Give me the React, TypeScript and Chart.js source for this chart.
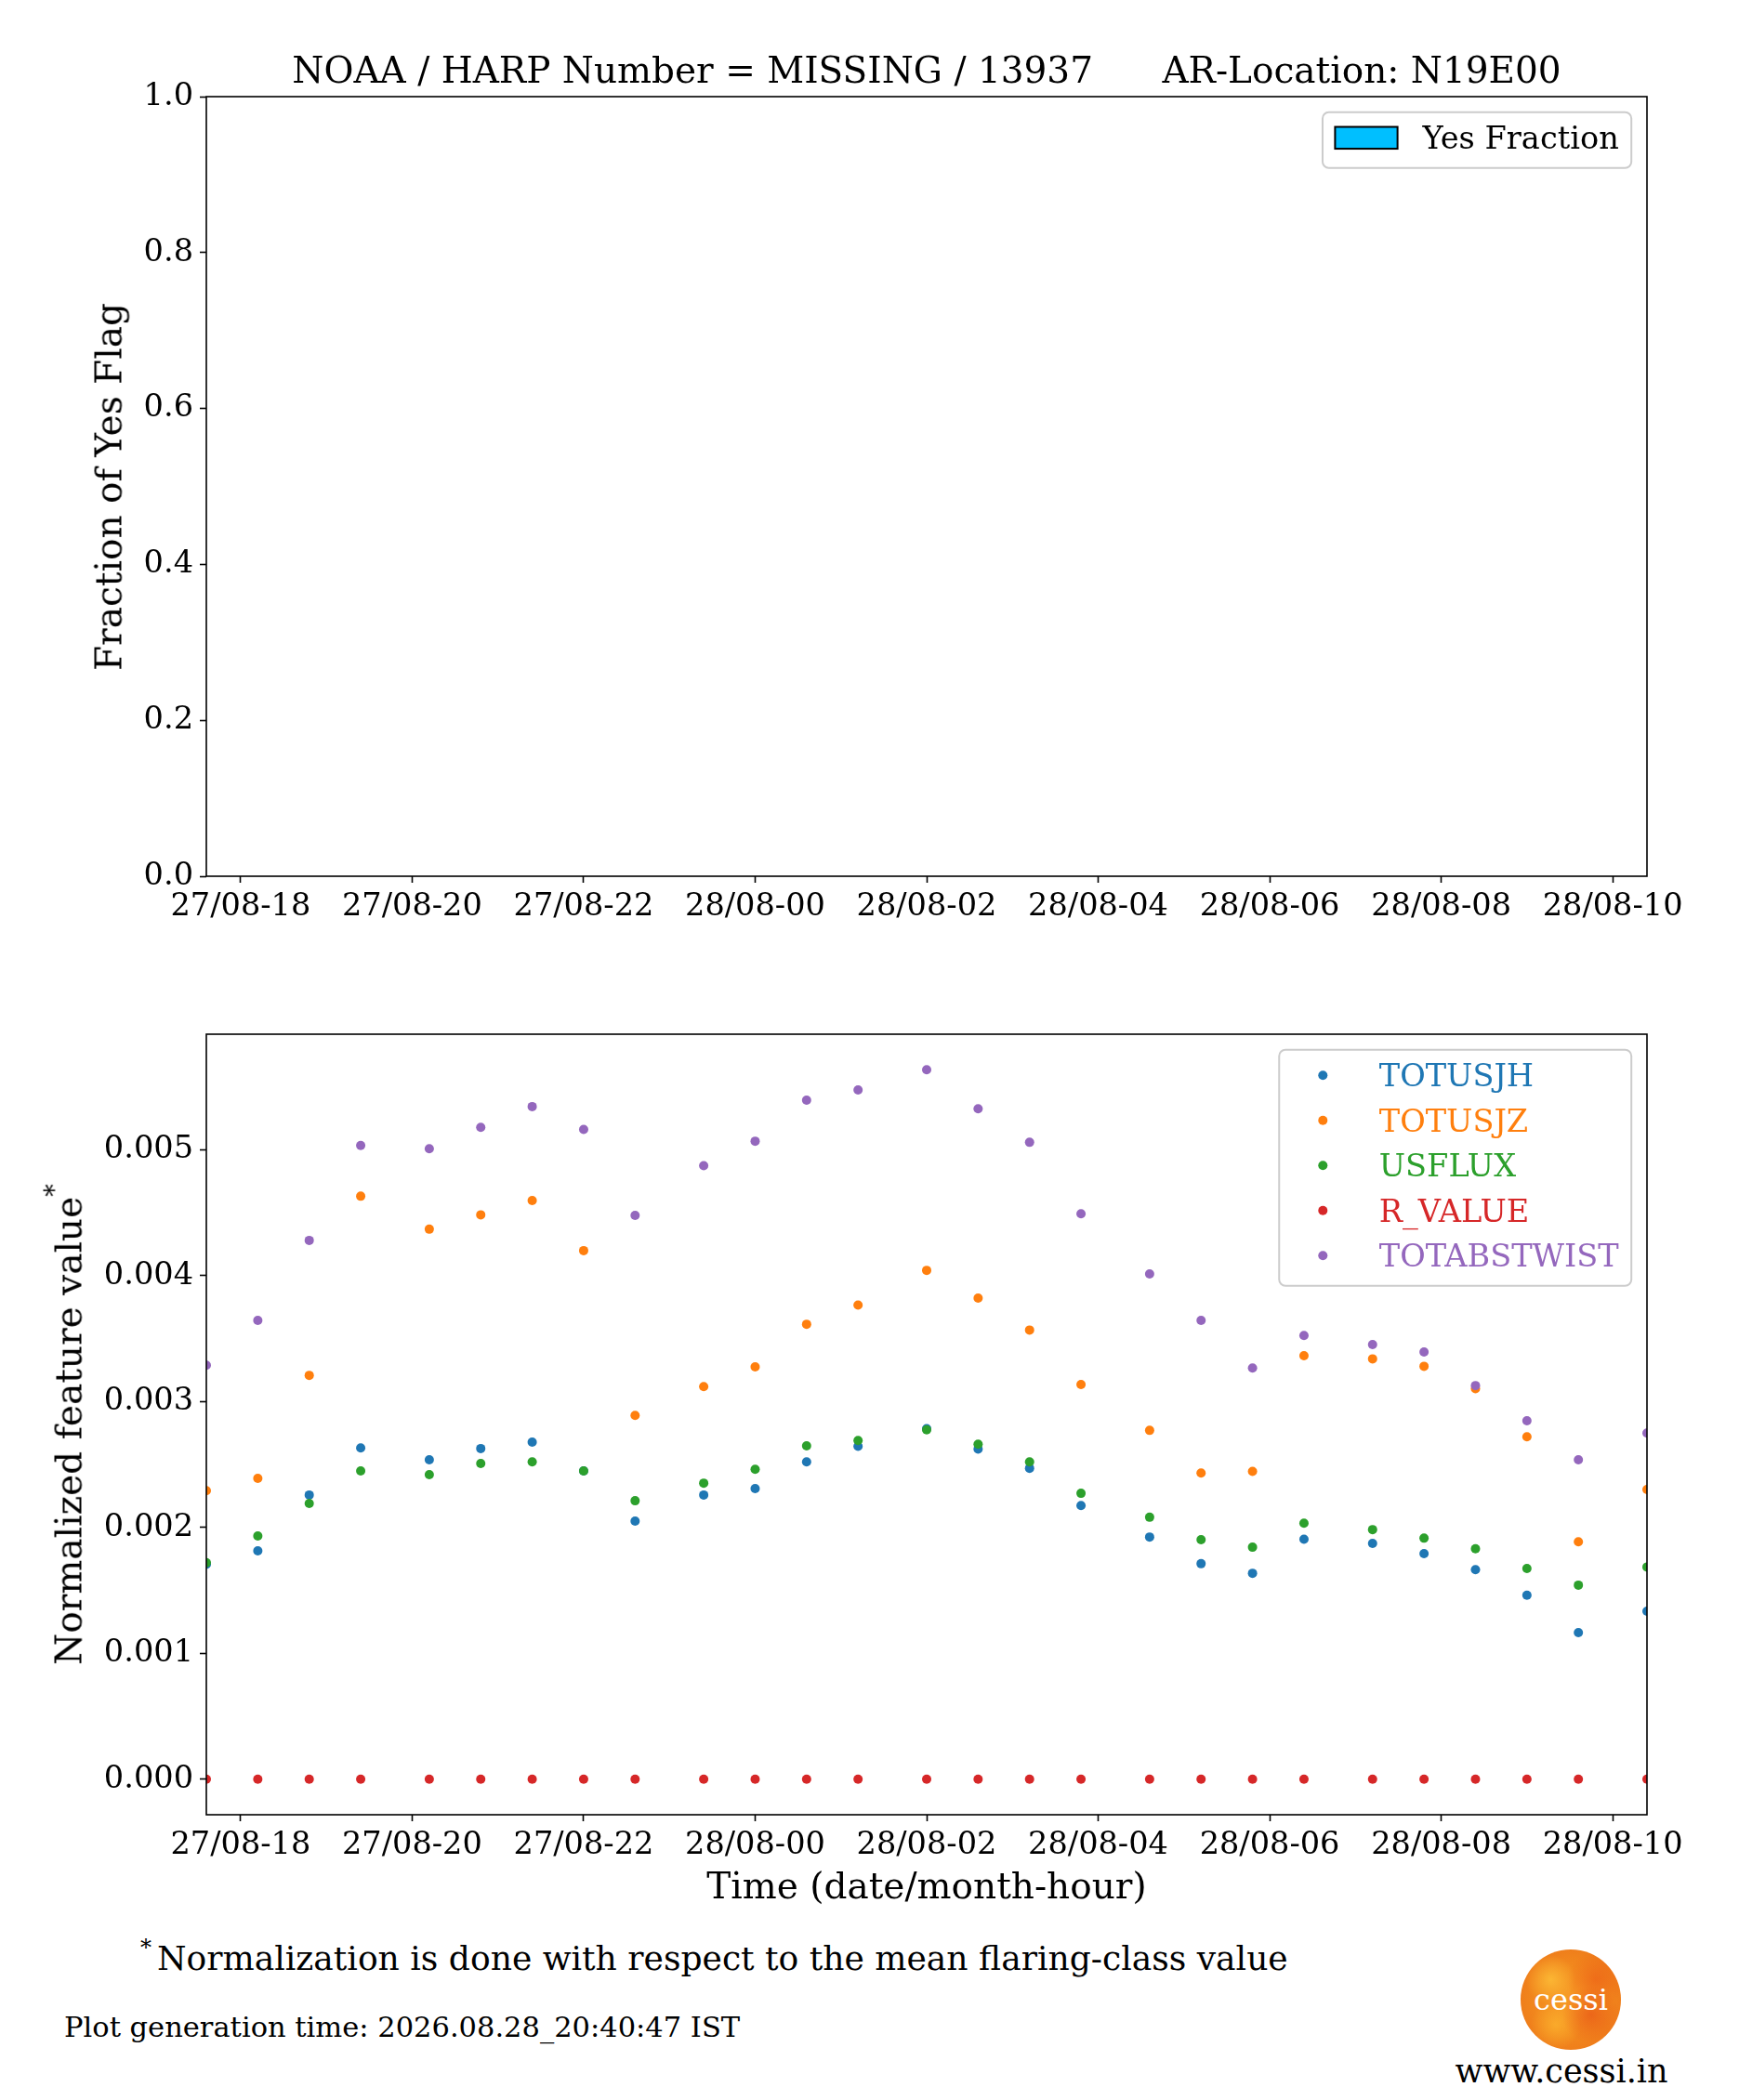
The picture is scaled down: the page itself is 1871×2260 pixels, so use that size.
import React, { useEffect, useRef } from "react";
import { Chart, registerables } from "chart.js";

Chart.register(...registerables);

const FONT = "'DejaVu Serif', serif";

// ---------- data ----------
const times = [
  "27/08 17:36", "27/08 18:12", "27/08 18:48", "27/08 19:24", "27/08 20:12", "27/08 20:48",
  "27/08 21:24", "27/08 22:00", "27/08 22:36", "27/08 23:24", "28/08 00:00", "28/08 00:36",
  "28/08 01:12", "28/08 02:00", "28/08 02:36", "28/08 03:12", "28/08 03:48", "28/08 04:36",
  "28/08 05:12", "28/08 05:48", "28/08 06:24", "28/08 07:12", "28/08 07:48", "28/08 08:24",
  "28/08 09:00", "28/08 09:36", "28/08 10:24",
];

const TOTUSJH = [
  0.001708, 0.001814, 0.002258, 0.002631, 0.002538, 0.002627, 0.002678, 0.002449, 0.002051,
  0.002258, 0.002309, 0.002521, 0.002644, 0.002784, 0.002623, 0.002470, 0.002174, 0.001924,
  0.001712, 0.001636, 0.001907, 0.001873, 0.001792, 0.001665, 0.001462, 0.001165, 0.001335,
];
const TOTUSJZ = [
  0.002292, 0.002390, 0.003208, 0.004631, 0.004369, 0.004483, 0.004597, 0.004199, 0.002890,
  0.003119, 0.003275, 0.003614, 0.003767, 0.004042, 0.003822, 0.003568, 0.003136, 0.002771,
  0.002432, 0.002445, 0.003364, 0.003339, 0.003280, 0.003102, 0.002720, 0.001886, 0.002301,
];
const USFLUX = [
  0.001720, 0.001932, 0.002191, 0.002449, 0.002419, 0.002508, 0.002521, 0.002449, 0.002212,
  0.002352, 0.002462, 0.002648, 0.002691, 0.002775, 0.002661, 0.002521, 0.002271, 0.002081,
  0.001903, 0.001843, 0.002034, 0.001983, 0.001915, 0.001831, 0.001674, 0.001542, 0.001686,
];
const R_VALUE = [
  0, 0, 0, 0, 0, 0, 0, 0, 0, 0, 0, 0, 0, 0, 0, 0, 0, 0, 0, 0, 0, 0, 0, 0, 0, 0, 0,
];
const TOTABSTWIST = [
  0.003288, 0.003644, 0.004280, 0.005034, 0.005008, 0.005178, 0.005343, 0.005161, 0.004479,
  0.004873, 0.005068, 0.005394, 0.005475, 0.005636, 0.005326, 0.005059, 0.004492, 0.004013,
  0.003644, 0.003267, 0.003525, 0.003453, 0.003394, 0.003127, 0.002847, 0.002538, 0.002750,
];

const yesFraction: number[] = [];

const seriesNames = ["TOTUSJH", "TOTUSJZ", "USFLUX", "R_VALUE", "TOTABSTWIST"];
const seriesValues = [TOTUSJH, TOTUSJZ, USFLUX, R_VALUE, TOTABSTWIST];
const seriesColors = ["#1f77b4", "#ff7f0e", "#2ca02c", "#d62728", "#9467bd"];

const xTickLabels = [
  "27/08-18", "27/08-20", "27/08-22", "28/08-00", "28/08-02",
  "28/08-04", "28/08-06", "28/08-08", "28/08-10",
];
const fracTicks = [0, 0.2, 0.4, 0.6, 0.8, 1.0];
const fracTickLabels = ["0.0", "0.2", "0.4", "0.6", "0.8", "1.0"];
const featTicks = [0, 0.001, 0.002, 0.003, 0.004, 0.005];
const featTickLabels = ["0.000", "0.001", "0.002", "0.003", "0.004", "0.005"];

// ---------- helpers ----------
function hoursOf(t: string): number {
  const [dm, hm] = t.split(" ");
  const day = parseInt(dm.split("/")[0], 10);
  const [h, m] = hm.split(":").map(Number);
  return (day - 27) * 24 + h + m / 60;
}
function tickHours(l: string): number {
  const day = parseInt(l.slice(0, 2), 10);
  const h = parseInt(l.slice(6), 10);
  return (day - 27) * 24 + h;
}

const xs = times.map(hoursOf);
const xMin = Math.min(...xs);
const xMax = Math.max(...xs);
const xTickValues = xTickLabels.map(tickHours);

const allVals = seriesValues.flat();
const dMin = Math.min(...allVals);
const dMax = Math.max(...allVals);
const yMinFeat = dMin - 0.05 * (dMax - dMin);
const yMaxFeat = dMax + 0.05 * (dMax - dMin);

const W = 1871;
const TICK_FS = 33.6;
const LABEL_FS = 39;
const PLOT_LEFT = 222;
const PLOT_RIGHT = 1772;

const framePlugin = {
  id: "frame",
  afterDatasetsDraw(chart: any) {
    const { ctx, chartArea: a } = chart;
    ctx.save();
    ctx.strokeStyle = "#000";
    ctx.lineWidth = 1.6;
    ctx.strokeRect(a.left, a.top, a.right - a.left, a.bottom - a.top);
    ctx.restore();
  },
};

const boxLegendPlugin = {
  id: "boxLegend",
  afterDraw(chart: any, _args: any, opts: any) {
    const items = opts && opts.items;
    if (!items || !items.length) return;
    const { ctx, chartArea: a } = chart;
    const fs = TICK_FS;
    ctx.save();
    ctx.font = `${fs}px ${FONT}`;
    const textW = Math.max(...items.map((it: any) => ctx.measureText(it.label).width));
    const pad = 0.4 * fs;
    const handleLen = 2 * fs;
    const handlePad = 0.8 * fs;
    const w = pad + handleLen + handlePad + textW + pad;
    const rowStep = 48.5;
    const h = 60 + (items.length - 1) * rowStep;
    const right = a.right - 0.5 * fs;
    const left = right - w;
    const top = a.top + 0.5 * fs;
    const r = 0.2 * fs;
    ctx.beginPath();
    ctx.moveTo(left + r, top);
    ctx.lineTo(left + w - r, top);
    ctx.arcTo(left + w, top, left + w, top + r, r);
    ctx.lineTo(left + w, top + h - r);
    ctx.arcTo(left + w, top + h, left + w - r, top + h, r);
    ctx.lineTo(left + r, top + h);
    ctx.arcTo(left, top + h, left, top + h - r, r);
    ctx.lineTo(left, top + r);
    ctx.arcTo(left, top, left + r, top, r);
    ctx.closePath();
    ctx.fillStyle = "rgba(255,255,255,0.8)";
    ctx.fill();
    ctx.strokeStyle = "#cccccc";
    ctx.lineWidth = 2;
    ctx.stroke();
    items.forEach((it: any, i: number) => {
      const cy = top + 27.5 + i * rowStep;
      const hx = left + pad;
      if (it.kind === "patch") {
        const ph = 0.7 * fs;
        ctx.fillStyle = it.color;
        ctx.fillRect(hx, cy - ph / 2, handleLen, ph);
        ctx.strokeStyle = "#000";
        ctx.lineWidth = 2;
        ctx.strokeRect(hx, cy - ph / 2, handleLen, ph);
      } else {
        ctx.fillStyle = it.color;
        ctx.beginPath();
        ctx.arc(hx + handleLen / 2, cy, 5, 0, Math.PI * 2);
        ctx.fill();
      }
      ctx.fillStyle = it.textColor;
      ctx.textBaseline = "alphabetic";
      ctx.textAlign = "left";
      ctx.fillText(it.label, hx + handleLen + handlePad, cy + 0.36 * fs);
    });
    ctx.restore();
  },
};

function xScale(canvasH: number, plotBottom: number) {
  return {
    type: "linear",
    min: xMin,
    max: xMax,
    offset: false,
    afterBuildTicks: (s: any) => {
      s.ticks = xTickValues.map((v) => ({ value: v }));
    },
    afterFit: (s: any) => {
      s.height = canvasH - plotBottom;
    },
    ticks: {
      callback: (_v: any, i: number) => xTickLabels[i],
      font: { family: FONT, size: TICK_FS },
      color: "#000",
      padding: 6,
      maxRotation: 0,
      minRotation: 0,
      autoSkip: false,
    },
    grid: {
      display: true,
      offset: false,
      drawOnChartArea: false,
      drawTicks: true,
      tickLength: 7,
      tickWidth: 1.6,
      tickColor: "#000",
    },
    border: { display: false },
  };
}

function yScale(min: number, max: number, tickVals: number[], tickLabels: string[]) {
  return {
    type: "linear",
    min,
    max,
    afterBuildTicks: (s: any) => {
      s.ticks = tickVals.map((v) => ({ value: v }));
    },
    afterFit: (s: any) => {
      s.width = PLOT_LEFT;
    },
    ticks: {
      callback: (_v: any, i: number) => tickLabels[i],
      font: { family: FONT, size: TICK_FS },
      color: "#000",
      padding: 7,
      autoSkip: false,
    },
    grid: {
      display: true,
      drawOnChartArea: false,
      drawTicks: true,
      tickLength: 7,
      tickWidth: 1.6,
      tickColor: "#000",
    },
    border: { display: false },
  };
}

const TOP_CANVAS_H = 1060;
const TOP_PLOT_TOP = 104;
const TOP_PLOT_BOTTOM = 943;
const BOT_CANVAS_TOP = 1060;
const BOT_CANVAS_H = 1000;
const BOT_PLOT_TOP = 1113;
const BOT_PLOT_BOTTOM = 1953;

function Txt(props: {
  x: number;
  y: number; // baseline
  size: number;
  align?: "left" | "center" | "right";
  color?: string;
  children: React.ReactNode;
}) {
  const { x, y, size, align = "left", color = "#000" } = props;
  const tx = align === "center" ? "-50%" : align === "right" ? "-100%" : "0";
  return (
    <div
      style={{
        position: "absolute",
        left: x,
        top: y - 0.846 * size,
        fontSize: size,
        lineHeight: 1,
        fontFamily: FONT,
        color,
        whiteSpace: "pre",
        transform: `translateX(${tx})`,
      }}
    >
      {props.children}
    </div>
  );
}

function VTxt(props: { baselineX: number; cy: number; size: number; children: React.ReactNode }) {
  const { baselineX, cy, size } = props;
  return (
    <div
      style={{
        position: "absolute",
        left: baselineX - 0.346 * size,
        top: cy,
        fontSize: size,
        lineHeight: 1,
        fontFamily: FONT,
        color: "#000",
        whiteSpace: "pre",
        transform: "translate(-50%, -50%) rotate(-90deg)",
      }}
    >
      {props.children}
    </div>
  );
}

export default function App() {
  const topRef = useRef<HTMLCanvasElement>(null);
  const botRef = useRef<HTMLCanvasElement>(null);

  useEffect(() => {
    const topChart = new Chart(topRef.current as HTMLCanvasElement, {
      type: "bar",
      data: {
        datasets: [
          {
            label: "Yes Fraction",
            data: yesFraction as any,
            backgroundColor: "#00bfff",
            borderColor: "#000",
            borderWidth: 2,
          },
        ],
      },
      options: {
        responsive: false,
        animation: false,
        devicePixelRatio: 1,
        events: [],
        layout: { padding: { top: TOP_PLOT_TOP, left: 0, right: W - PLOT_RIGHT, bottom: 0 } },
        scales: {
          x: xScale(TOP_CANVAS_H, TOP_PLOT_BOTTOM) as any,
          y: yScale(0, 1, fracTicks, fracTickLabels) as any,
        },
        plugins: {
          legend: { display: false },
          tooltip: { enabled: false },
          boxLegend: {
            items: [{ label: "Yes Fraction", color: "#00bfff", textColor: "#000", kind: "patch" }],
          },
        } as any,
      },
      plugins: [framePlugin, boxLegendPlugin],
    });

    const botChart = new Chart(botRef.current as HTMLCanvasElement, {
      type: "scatter",
      data: {
        datasets: seriesNames.map((name, i) => ({
          label: name,
          data: seriesValues[i].map((v, j) => ({ x: xs[j], y: v })),
          backgroundColor: seriesColors[i],
          borderColor: seriesColors[i],
          pointRadius: 5,
          pointBorderWidth: 0,
          pointHoverRadius: 5,
          clip: 0,
          order: seriesNames.length - i,
        })),
      },
      options: {
        responsive: false,
        animation: false,
        devicePixelRatio: 1,
        events: [],
        layout: {
          padding: { top: BOT_PLOT_TOP - BOT_CANVAS_TOP, left: 0, right: W - PLOT_RIGHT, bottom: 0 },
        },
        scales: {
          x: xScale(BOT_CANVAS_TOP + BOT_CANVAS_H, BOT_PLOT_BOTTOM) as any,
          y: yScale(yMinFeat, yMaxFeat, featTicks, featTickLabels) as any,
        },
        plugins: {
          legend: { display: false },
          tooltip: { enabled: false },
          boxLegend: {
            items: seriesNames.map((n, i) => ({
              label: n,
              color: seriesColors[i],
              textColor: seriesColors[i],
              kind: "dot",
            })),
          },
        } as any,
      },
      plugins: [framePlugin, boxLegendPlugin],
    });

    return () => {
      topChart.destroy();
      botChart.destroy();
    };
  }, []);

  return (
    <div
      style={{
        position: "absolute",
        left: 0,
        top: 0,
        width: W,
        height: 2260,
        background: "#fff",
        overflow: "hidden",
      }}
    >
      <canvas
        ref={topRef}
        width={W}
        height={TOP_CANVAS_H}
        style={{ position: "absolute", left: 0, top: 0 }}
      />
      <canvas
        ref={botRef}
        width={W}
        height={BOT_CANVAS_H}
        style={{ position: "absolute", left: 0, top: BOT_CANVAS_TOP }}
      />

      <Txt x={(PLOT_LEFT + PLOT_RIGHT) / 2} y={89} size={LABEL_FS} align="center">
        {"NOAA / HARP Number = MISSING / 13937      AR-Location: N19E00"}
      </Txt>

      <VTxt baselineX={130} cy={(TOP_PLOT_TOP + TOP_PLOT_BOTTOM) / 2} size={LABEL_FS}>
        Fraction of Yes Flag
      </VTxt>

      <VTxt baselineX={87} cy={(BOT_PLOT_TOP + BOT_PLOT_BOTTOM) / 2} size={LABEL_FS}>
        <span>
          Normalized feature value
          <span style={{ fontSize: "0.7em", position: "relative", top: "-0.75em" }}>*</span>
        </span>
      </VTxt>

      <Txt x={(PLOT_LEFT + PLOT_RIGHT) / 2} y={2043} size={LABEL_FS} align="center">
        Time (date/month-hour)
      </Txt>

      <Txt x={151} y={2104} size={24}>
        *
      </Txt>
      <Txt x={169} y={2121} size={36.1}>
        Normalization is done with respect to the mean flaring-class value
      </Txt>

      <Txt x={69} y={2193} size={30.5}>
        Plot generation time: 2026.08.28_20:40:47 IST
      </Txt>

      <div
        style={{
          position: "absolute",
          left: 1690 - 54,
          top: 2152 - 54,
          width: 108,
          height: 108,
          borderRadius: "50%",
          background:
            "radial-gradient(circle at 30% 30%, rgba(255,200,60,0.7) 0%, rgba(255,200,60,0) 25%)," +
            "radial-gradient(circle at 70% 65%, rgba(230,70,20,0.55) 0%, rgba(230,70,20,0) 30%)," +
            "radial-gradient(circle at 35% 75%, rgba(255,190,50,0.6) 0%, rgba(255,190,50,0) 25%)," +
            "radial-gradient(circle at 75% 30%, rgba(235,80,20,0.5) 0%, rgba(235,80,20,0) 28%)," +
            "radial-gradient(circle at 50% 50%, #f79a26 0%, #f28a1e 45%, #ee7a1a 80%, #ea6c18 100%)",
        }}
      />
      <Txt x={1690} y={2163} size={32} align="center" color="#ffffff">
        cessi
      </Txt>

      <Txt x={1680} y={2242} size={35} align="center">
        www.cessi.in
      </Txt>
    </div>
  );
}
